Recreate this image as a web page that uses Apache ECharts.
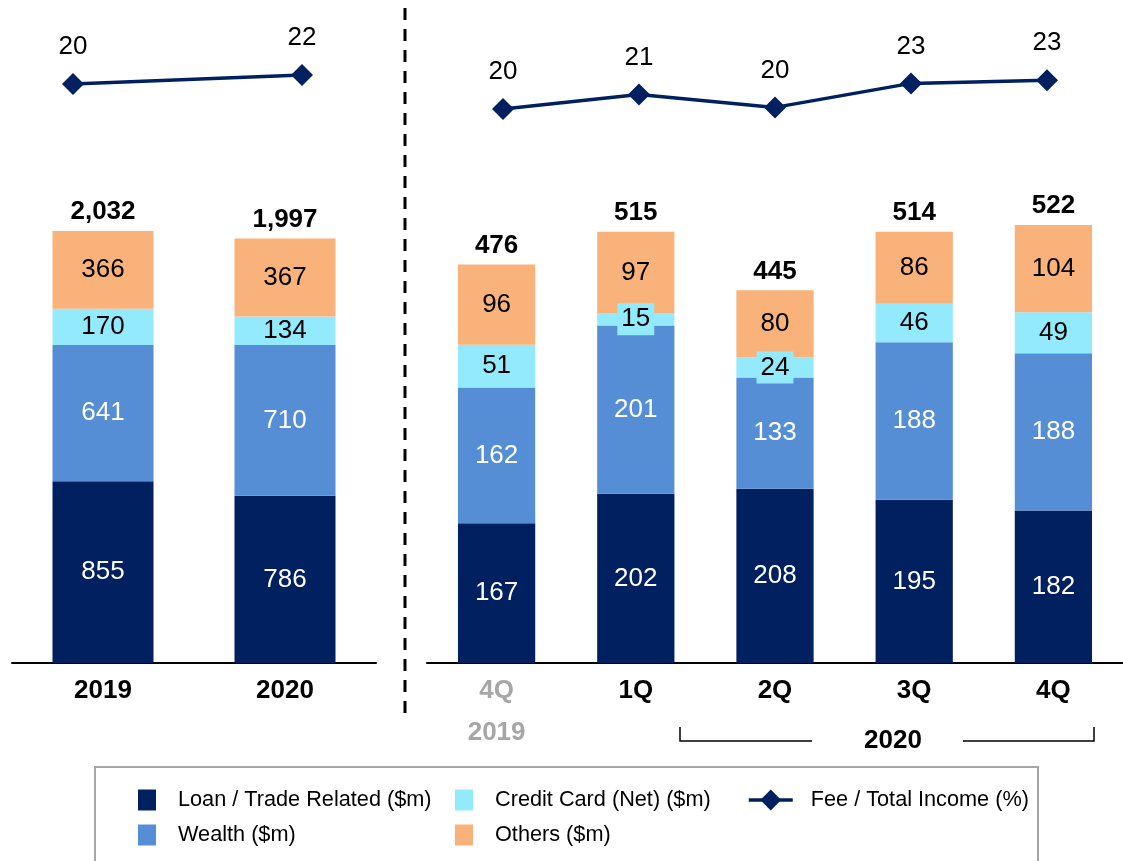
<!DOCTYPE html>
<html>
<head>
<meta charset="utf-8">
<script src="https://cdn.jsdelivr.net/npm/echarts@6/dist/echarts.min.js"></script>
<style>
html,body{margin:0;padding:0;background:#fff;}
#c{width:1123px;height:861px;}
</style>
</head>
<body>
<div id="c"></div>
<script>
// ---- data ----
const annualCats = ['2019', '2020'];
const quarterCats = ['4Q\n2019', '1Q', '2Q', '3Q', '4Q'];
const annualLoan = [855, 786];
const annualWealth = [641, 710];
const annualCard = [170, 134];
const annualOthers = [366, 367];
const annualTotal = [2032, 1997];
const annualFee = [20.0, 22.0];
const qLoan = [167, 202, 208, 195, 182];
const qWealth = [162, 201, 133, 188, 188];
const qCard = [51, 15, 24, 46, 49];
const qOthers = [96, 97, 80, 86, 104];
const qTotal = [476, 515, 445, 514, 522];
const qFee = [19.6, 21.4, 19.8, 22.8, 23.2];

const NAMES = ['Loan / Trade Related ($m)', 'Wealth ($m)', 'Credit Card (Net) ($m)', 'Others ($m)', 'Fee / Total Income (%)'];
const COLORS = ['#002060', '#558ED5', '#93EAFD', '#F9B27A'];
const FONT = '"Liberation Sans", Arial, sans-serif';
const FS = 26;

const chart = echarts.init(document.getElementById('c'), null, {renderer: 'canvas'});

function barSeries(name, data, idx, color, labelColor, stack) {
  return {
    type: 'bar', name: name, data: data, stack: stack,
    xAxisIndex: idx, yAxisIndex: idx,
    barWidth: '55.5%',
    itemStyle: {color: color},
    label: {
      show: true, position: 'inside', color: labelColor,
      fontSize: FS, fontFamily: FONT
    },
    emphasis: {disabled: true}
  };
}
// thin credit-card segments get a label box in the segment colour that overhangs the bar
function cardData(arr, yMax) {
  return arr.map(v => v / yMax < 0.035
    ? {value: v, label: {backgroundColor: COLORS[2], padding: [3, 4]}}
    : v);
}
function totalSeries(totals, idx, stack) {
  return {
    type: 'bar', name: 'Total', data: totals.map(() => 0), stack: stack,
    xAxisIndex: idx, yAxisIndex: idx, barWidth: '55.5%',
    itemStyle: {color: 'rgba(0,0,0,0)'},
    label: {
      show: true, position: 'top', distance: 6, color: '#000',
      fontSize: FS, fontWeight: 'bold', fontFamily: FONT,
      formatter: p => totals[p.dataIndex].toLocaleString('en-US')
    },
    emphasis: {disabled: true}, silent: true
  };
}
function lineSeries(data, idx) {
  return {
    type: 'line', name: NAMES[4], data: data, xAxisIndex: idx, yAxisIndex: idx,
    symbol: 'diamond', symbolSize: 22,
    lineStyle: {color: '#002060', width: 3.5},
    itemStyle: {color: '#002060'},
    label: {
      show: true, position: 'top', distance: 13, color: '#000',
      fontSize: FS, fontFamily: FONT,
      formatter: p => Math.round(p.value)
    },
    emphasis: {disabled: true}
  };
}

const catAxisBase = {
  type: 'category',
  axisLine: {show: true, lineStyle: {color: '#000', width: 2}},
  axisTick: {show: false},
  splitLine: {show: false},
  axisLabel: {
    color: '#000', fontSize: FS, fontWeight: 'bold', fontFamily: FONT,
    lineHeight: 42, margin: 7, interval: 0
  }
};
const hiddenVal = (min, max, gi) => ({type: 'value', gridIndex: gi, min: min, max: max, show: false, splitLine: {show: false}});

function legendItem(name, left, top, isLine) {
  const l = {
    data: [name], left: left, top: top, orient: 'horizontal',
    selectedMode: false,
    itemWidth: isLine ? 44 : 18, itemHeight: isLine ? 26 : 21,
    padding: 0,
    textStyle: {color: '#000', fontSize: 21.7, fontFamily: FONT, padding: [0, 0, 0, isLine ? 13 : 17]}
  };
  if (isLine) {
    l.lineStyle = {width: 3.5, color: '#002060'};
  } else {
    l.icon = 'rect';
  }
  return l;
}

const option = {
  animation: false,
  backgroundColor: '#fff',
  grid: [
    {left: 12, width: 364, top: 40, height: 623},
    {left: 427, width: 703, top: 40, height: 623},
    {left: 73, width: 229, top: 40, height: 100},
    {left: 503, width: 544, top: 40, height: 100}
  ],
  xAxis: [
    Object.assign({}, catAxisBase, {gridIndex: 0, data: annualCats}),
    Object.assign({}, catAxisBase, {gridIndex: 1, data: quarterCats.map((c, i) => i === 0 ? {value: c, textStyle: {color: '#A6A6A6'}} : c)}),
    {type: 'category', gridIndex: 2, data: annualCats, boundaryGap: false, show: false},
    {type: 'category', gridIndex: 3, data: quarterCats, boundaryGap: false, show: false}
  ],
  yAxis: [
    hiddenVal(0, 2930, 0),
    hiddenVal(0, 744, 1),
    hiddenVal(7.56, 29.78, 2),
    hiddenVal(15.725, 28.225, 3)
  ],
  legend: [
    legendItem(NAMES[0], 138, 789, false),
    legendItem(NAMES[2], 455, 789, false),
    legendItem(NAMES[4], 747, 789, true),
    legendItem(NAMES[1], 138, 824, false),
    legendItem(NAMES[3], 455, 824, false)
  ],
  series: [
    barSeries(NAMES[0], annualLoan, 0, COLORS[0], '#fff', 'a'),
    barSeries(NAMES[1], annualWealth, 0, COLORS[1], '#fff', 'a'),
    barSeries(NAMES[2], cardData(annualCard, 2930), 0, COLORS[2], '#000', 'a'),
    barSeries(NAMES[3], annualOthers, 0, COLORS[3], '#000', 'a'),
    totalSeries(annualTotal, 0, 'a'),
    barSeries(NAMES[0], qLoan, 1, COLORS[0], '#fff', 'b'),
    barSeries(NAMES[1], qWealth, 1, COLORS[1], '#fff', 'b'),
    barSeries(NAMES[2], cardData(qCard, 744), 1, COLORS[2], '#000', 'b'),
    barSeries(NAMES[3], qOthers, 1, COLORS[3], '#000', 'b'),
    totalSeries(qTotal, 1, 'b'),
    lineSeries(annualFee, 2),
    lineSeries(qFee, 3)
  ],
  graphic: [
    {type: 'line', shape: {x1: 405, y1: 8, x2: 405, y2: 718},
     style: {stroke: '#000', lineWidth: 3, lineDash: [12, 9]}, silent: true},
    {type: 'polyline', shape: {points: [[680, 727], [680, 741], [812, 741]]},
     style: {stroke: '#000', lineWidth: 1.5, fill: null}, silent: true},
    {type: 'polyline', shape: {points: [[963, 741], [1094, 741], [1094, 727]]},
     style: {stroke: '#000', lineWidth: 1.5, fill: null}, silent: true},
    {type: 'text', x: 893, y: 741,
     style: {text: '2020', fill: '#000', font: 'bold 26px "Liberation Sans", Arial, sans-serif', align: 'center', verticalAlign: 'middle'}, silent: true},
    {type: 'rect', shape: {x: 95, y: 767, width: 943, height: 110},
     style: {stroke: '#A6A6A6', lineWidth: 2, fill: null}, silent: true}
  ]
};
chart.setOption(option);
</script>
</body>
</html>
